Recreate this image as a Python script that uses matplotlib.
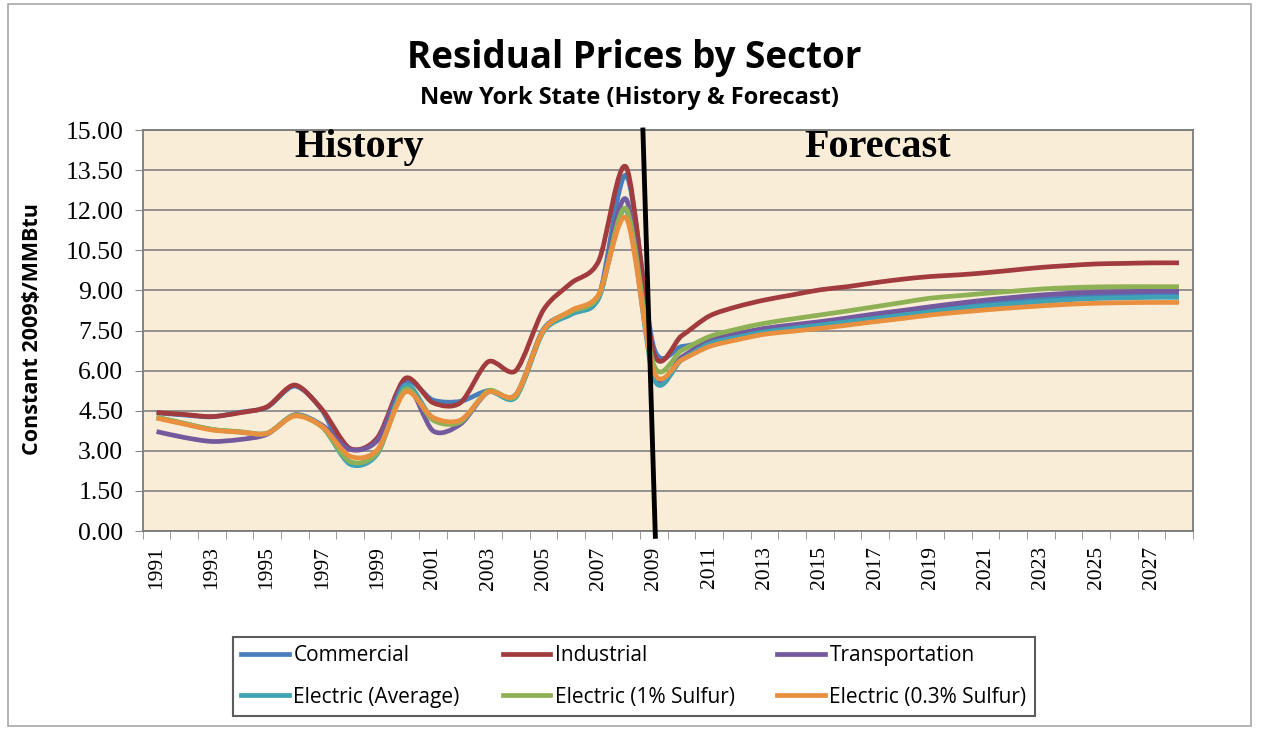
import matplotlib.pyplot as plt
import matplotlib.patches as patches
from matplotlib.path import Path
from matplotlib.lines import Line2D
import numpy as np

# Residual prices by sector, New York State (history 1991-2008, forecast 2009-2028)
years = list(range(1991, 2029))

commercial = [4.42, 4.34, 4.27, 4.44, 4.63, 5.42, 4.50, 2.55, 3.00, 5.55, 4.90, 4.85, 5.25, 5.10, 7.55, 8.20, 8.75, 13.30,
              6.85, 6.90, 7.10, 7.33, 7.52, 7.65, 7.78, 7.91, 8.05, 8.18, 8.32, 8.44, 8.55, 8.64, 8.72, 8.79, 8.84, 8.86, 8.88, 8.88]
industrial = [4.43, 4.36, 4.28, 4.42, 4.65, 5.46, 4.53, 3.09, 3.50, 5.71, 4.80, 4.80, 6.33, 6.00, 8.27, 9.27, 10.10, 13.60,
              6.65, 7.30, 8.04, 8.39, 8.64, 8.83, 9.02, 9.14, 9.29, 9.42, 9.52, 9.58, 9.66, 9.76, 9.86, 9.93, 9.99, 10.01, 10.03, 10.03]
transportation = [3.72, 3.50, 3.35, 3.42, 3.62, 4.35, 3.95, 3.05, 3.40, 5.50, 3.75, 4.00, 5.20, 5.05, 7.50, 8.20, 8.80, 12.40,
                  5.85, 6.50, 7.15, 7.38, 7.58, 7.71, 7.83, 7.97, 8.12, 8.25, 8.39, 8.52, 8.64, 8.74, 8.83, 8.89, 8.93, 8.95, 8.97, 8.97]
electric_avg = [4.25, 4.02, 3.80, 3.70, 3.65, 4.32, 3.90, 2.50, 2.90, 5.45, 4.20, 4.10, 5.20, 5.00, 7.45, 8.10, 8.70, 12.00,
                5.70, 6.40, 7.00, 7.25, 7.45, 7.58, 7.70, 7.83, 7.95, 8.08, 8.20, 8.32, 8.42, 8.50, 8.58, 8.65, 8.70, 8.72, 8.74, 8.74]
electric_1pct = [4.26, 4.03, 3.80, 3.72, 3.66, 4.33, 3.88, 2.60, 2.95, 5.30, 4.15, 4.08, 5.25, 5.05, 7.50, 8.20, 8.80, 12.05,
                 6.20, 6.75, 7.27, 7.55, 7.77, 7.93, 8.08, 8.23, 8.39, 8.55, 8.71, 8.80, 8.89, 8.97, 9.05, 9.10, 9.13, 9.14, 9.14, 9.14]
electric_03pct = [4.22, 4.00, 3.78, 3.70, 3.65, 4.30, 3.90, 2.80, 3.05, 5.20, 4.25, 4.15, 5.20, 5.10, 7.50, 8.25, 8.85, 11.70,
                  5.95, 6.40, 6.90, 7.15, 7.36, 7.47, 7.58, 7.70, 7.83, 7.95, 8.08, 8.18, 8.27, 8.35, 8.42, 8.48, 8.52, 8.54, 8.55, 8.55]

series_names = ["Commercial", "Industrial", "Transportation",
                "Electric (Average)", "Electric (1% Sulfur)", "Electric (0.3% Sulfur)"]
series_colors = ["#4A7EBB", "#A23B3E", "#74599E", "#3FA2B5", "#8DB154", "#E8903F"]
forecast_start = 2009


def smooth_path(x, y):
    # Excel-style smoothed line: cubic Bezier segments through every data point
    pts = np.column_stack([x, y]).astype(float)
    verts = [pts[0]]
    codes = [Path.MOVETO]
    n = len(pts)
    for i in range(n - 1):
        p0 = pts[max(i - 1, 0)]
        p1 = pts[i]
        p2 = pts[i + 1]
        p3 = pts[min(i + 2, n - 1)]
        verts += [p1 + (p2 - p0) / 7.0, p2 - (p3 - p1) / 7.0, p2]
        codes += [Path.CURVE4] * 3
    return Path(verts, codes)


fig = plt.figure(figsize=(12.61, 7.30), dpi=100)
ax = fig.add_axes([0.1132, 0.2726, 0.8327, 0.5493])
ax.set_facecolor("#FAEDD7")

all_series = [commercial, industrial, transportation, electric_avg, electric_1pct, electric_03pct]
handles = []
for vals, name, col in zip(all_series, series_names, series_colors):
    ax.add_patch(patches.PathPatch(smooth_path(years, vals), facecolor="none", edgecolor=col,
                                   lw=3.4, joinstyle="round", capstyle="butt", zorder=3))
    handles.append(Line2D([], [], color=col, lw=3.4, label=name))

ax.set_xlim(years[0] - 0.5, years[-1] + 0.5)
ax.set_ylim(0, 15)
ax.set_yticks(np.arange(0, 15.01, 1.5))
ax.set_yticklabels([f"{v:.2f}" for v in np.arange(0, 15.01, 1.5)],
                   family="Liberation Serif", fontsize=18.5)
ax.yaxis.grid(True, color="#8A8A8A", lw=1.3)
ax.set_axisbelow(True)

# category ticks at boundaries, labels on odd years
ax.set_xticks(years[::2])
ax.set_xticklabels([str(y) for y in years[::2]], rotation=90,
                   family="Liberation Serif", fontsize=15.5)
ax.set_xticks(np.arange(years[0] - 0.5, years[-1] + 1), minor=True)
ax.tick_params(axis="x", which="major", length=0, pad=11)
ax.tick_params(axis="x", which="minor", length=6, color="#8A8A8A", direction="out")
ax.tick_params(axis="y", length=6, color="#8A8A8A", pad=8)
for s in ax.spines.values():
    s.set_color("#7A7A7A")
    s.set_linewidth(1.3)

# history / forecast divider
ax.plot([forecast_start - 0.4, forecast_start + 0.05], [15, -0.2], color="black",
        lw=3.5, clip_on=False, zorder=5)
ax.text(1996.0, 14.0, "History", family="Liberation Serif", fontweight="bold",
        fontsize=29, ha="left", va="baseline", zorder=6)
ax.text(2014.45, 14.0, "Forecast", family="Liberation Serif", fontweight="bold",
        fontsize=29, ha="left", va="baseline", zorder=6)

fig.text(0.503, 0.907, "Residual Prices by Sector", family=["Open Sans", "DejaVu Sans"],
         fontweight="bold", fontsize=26.5, ha="center", va="baseline")
fig.text(0.499, 0.858, "New York State (History & Forecast)", family=["Open Sans", "DejaVu Sans"],
         fontweight="bold", fontsize=17, ha="center", va="baseline")
fig.text(0.026, 0.549, "Constant 2009$/MMBtu", family=["Open Sans", "DejaVu Sans"],
         fontweight="bold", fontsize=15.5, rotation=90, ha="center", va="center")

# Excel fills the legend row by row; matplotlib fills columns
leg_order = [0, 3, 1, 4, 2, 5]
leg = fig.legend([handles[i] for i in leg_order], [series_names[i] for i in leg_order],
                 loc="upper left", bbox_to_anchor=(0.1848, 0.128), ncol=3,
                 prop={"family": "Open Sans", "size": 15}, frameon=True, fancybox=False,
                 edgecolor="#333333", handlelength=2.3, handletextpad=0.2,
                 columnspacing=2.05, labelspacing=1.0, borderpad=0.4, borderaxespad=0)
leg.get_frame().set_linewidth(1.5)

# outer border of the chart
fig.patches.append(patches.Rectangle((8 / 1261, 4 / 730), 1243 / 1261, 722 / 730,
                                     transform=fig.transFigure, fill=False,
                                     edgecolor="#A8A8A8", lw=1.2))

fig.savefig("out.png", dpi=100)
